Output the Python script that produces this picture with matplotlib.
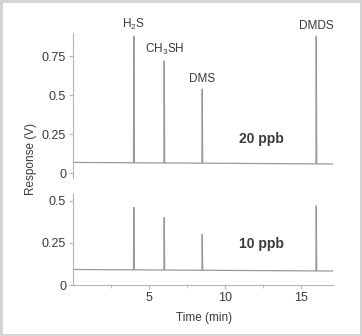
import matplotlib
matplotlib.use("Agg")
import matplotlib.pyplot as plt

plt.rcParams['font.family'] = ['Liberation Sans', 'DejaVu Sans']
plt.rcParams['mathtext.default'] = 'regular'

# retention times (min) and peak tops (V)
compounds = [r'H$_2$S', r'CH$_3$SH', 'DMS', 'DMDS']
rt = [4.0, 6.0, 8.5, 16.0]
top_20 = [0.88, 0.72, 0.54, 0.88]
top_10 = [0.46, 0.40, 0.30, 0.47]
# baseline level at start / end of the run
base_20 = [0.070, 0.060]
base_10 = [0.092, 0.083]
t_end = 17.1

trace_col = '#999999'
text_col = '#3a3a3a'
axis_col = '#b4b4b4'


def build_trace(tops, base):
    # baseline with a sharp spike at each retention time
    def b(t):
        return base[0] + (base[1] - base[0]) * t / t_end
    xs, ys = [0.0], [b(0.0)]
    for t, h in zip(rt, tops):
        xs += [t - 0.02, t, t + 0.03]
        ys += [b(t - 0.02), h, b(t + 0.03)]
    xs.append(t_end)
    ys.append(b(t_end))
    return xs, ys


def style(ax):
    for s in ['top', 'right']:
        ax.spines[s].set_visible(False)
    ax.spines['left'].set_color(axis_col)
    ax.spines['bottom'].set_color(axis_col)
    ax.tick_params(axis='both', colors=axis_col, labelcolor=text_col,
                   labelsize=9, length=3, pad=2)
    ax.set_xlim(0, t_end)


fig = plt.figure(figsize=(3.62, 3.36), dpi=100)
fig.patch.set_edgecolor('#d4d4d4')
fig.patch.set_linewidth(2.5)

ax1 = fig.add_axes([73/362, 1-178/336, 260/362, 145/336])
ax2 = fig.add_axes([73/362, 1-285/336, 260/362, 91/336])

# 20 ppb
x, y = build_trace(top_20, base_20)
ax1.plot(x, y, color=trace_col, lw=0.9)
style(ax1)
ax1.set_ylim(-0.03, 0.9)
ax1.spines['bottom'].set_visible(False)
ax1.set_xticks([])
ax1.set_yticks([0, 0.25, 0.5, 0.75])
ax1.set_yticklabels(['0', '0.25', '0.5', '0.75'])
for name, t, h in zip(compounds, rt, top_20):
    ax1.annotate(name, (t, h), xytext=(0, 3), textcoords='offset points',
                 ha='center', va='bottom', fontsize=8.5, color=text_col,
                 annotation_clip=False)
ax1.text(12.4, 0.22, '20 ppb', ha='center', va='center', fontsize=10,
         fontweight='bold', color=text_col)

# 10 ppb
x, y = build_trace(top_10, base_10)
ax2.plot(x, y, color=trace_col, lw=0.9)
style(ax2)
ax2.set_ylim(0, 0.54)
ax2.set_yticks([0, 0.25, 0.5])
ax2.set_yticklabels(['0', '0.25', '0.5'])
ax2.set_xticks([5, 10, 15])
ax2.set_xticks([2.5, 7.5, 12.5], minor=True)
ax2.tick_params(axis='x', which='minor', length=2, colors=axis_col)
ax2.text(12.4, 0.244, '10 ppb', ha='center', va='center', fontsize=10,
         fontweight='bold', color=text_col)

fig.text(31/362, 1-159/336, 'Response (V)', rotation=90, ha='center',
         va='center', fontsize=8.5, color=text_col)
fig.text(204/362, 1-318/336, 'Time (min)', ha='center', va='center',
         fontsize=8.5, color=text_col)

fig.savefig('out.png', dpi=100)
